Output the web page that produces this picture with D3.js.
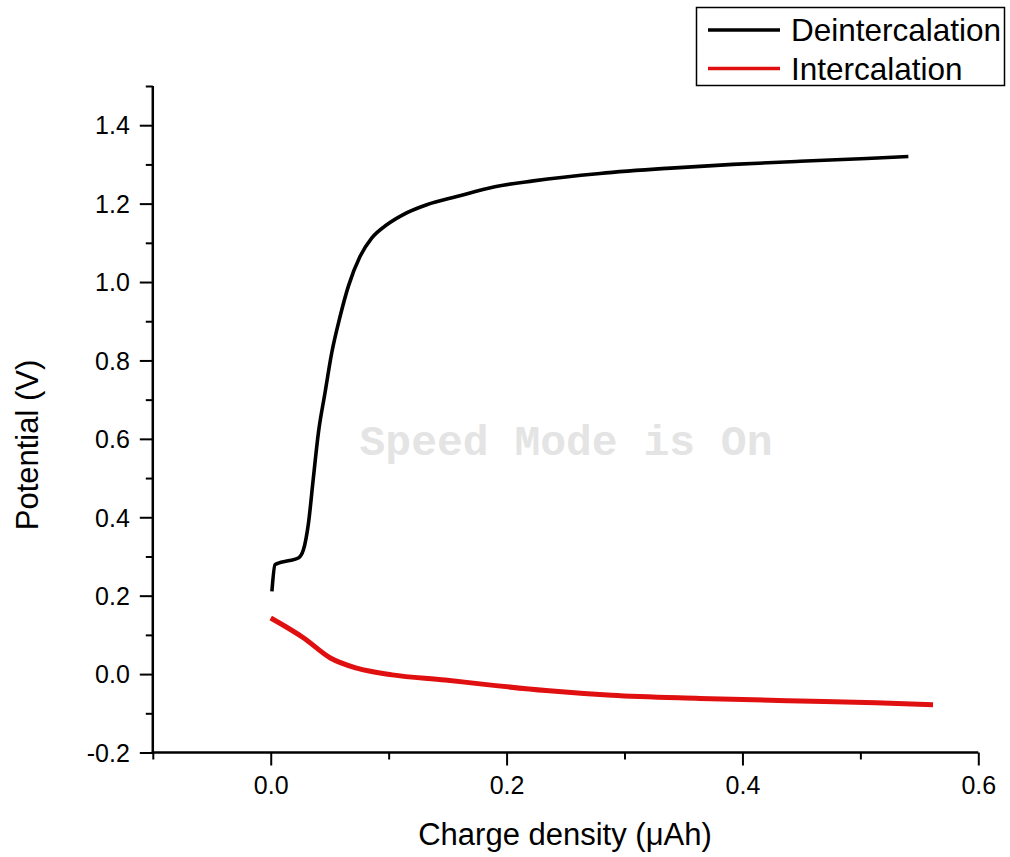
<!DOCTYPE html>
<html><head><meta charset="utf-8">
<script src="https://cdn.jsdelivr.net/npm/d3@7"></script>
<style>body{margin:0;background:#fff;}svg{display:block;}</style>
</head><body><svg id="c" width="1010" height="857"></svg>
<script>
const seriesNames = ["Deintercalation", "Intercalation"];
const seriesColors = ["#000000", "#e01010"];
const deintX = [0.001,0.0036,0.0065,0.015,0.0234,0.0277,0.032,0.036,0.0404,0.046,0.0517,0.0588,0.0658,0.0757,0.0856,0.0984,0.1124,0.1323,0.1577,0.19,0.2227,0.2792,0.3358,0.392,0.4488,0.5054,0.5407];
const deintY = [0.211,0.279,0.283,0.289,0.296,0.317,0.385,0.496,0.615,0.717,0.819,0.912,0.989,1.065,1.112,1.146,1.172,1.197,1.218,1.243,1.258,1.277,1.290,1.300,1.308,1.315,1.320];
const interX = [0.0,0.028,0.0506,0.073,0.103,0.148,0.1775,0.2334,0.289,0.364,0.4387,0.513,0.5616];
const interY = [0.143,0.092,0.041,0.015,-0.002,-0.015,-0.025,-0.042,-0.054,-0.062,-0.068,-0.073,-0.078];
const xMajor = [0.0,0.2,0.4,0.6];
const xMinor = [-0.1,0.1,0.3,0.5];
const yMajor = [-0.2,0.0,0.2,0.4,0.6,0.8,1.0,1.2,1.4];
const yMinor = [-0.1,0.1,0.3,0.5,0.7,0.9,1.1,1.3,1.5];

const svg = d3.select("#c");
const x = d3.scaleLinear().domain([-0.1,0.6]).range([152.8,978.3]);
const y = d3.scaleLinear().domain([-0.2,1.5]).range([752.5,86]);
const font = "Arial, 'Liberation Sans', sans-serif";
const fmt = d => d3.format(".1f")(d).replace("\u2212","-");

// watermark
svg.append("text").attr("x",566).attr("y",455).attr("text-anchor","middle")
  .attr("font-family","'Liberation Mono', 'Courier New', monospace").attr("font-weight","bold")
  .attr("font-size",43).attr("fill","#e4e4e4").text("Speed Mode is On");

// axes
const yAxMajor = d3.axisLeft(y).tickValues(yMajor).tickSize(13).tickFormat(fmt);
const yAxMinor = d3.axisLeft(y).tickValues(yMinor).tickSize(7).tickFormat("");
const xAxMajor = d3.axisBottom(x).tickValues(xMajor).tickSize(13).tickFormat(fmt);
const xAxMinor = d3.axisBottom(x).tickValues(xMinor).tickSize(7).tickFormat("");

function style(g){
  g.select(".domain").remove();
  g.selectAll("line").attr("stroke","#000").attr("stroke-width",2);
  g.selectAll("text").attr("font-family",font).attr("font-size",25).attr("fill","#000");
}
svg.append("g").attr("transform",`translate(${x.range()[0]},0)`).call(yAxMinor).call(style);
svg.append("g").attr("transform",`translate(${x.range()[0]},0)`).call(yAxMajor).call(style)
  .selectAll("text").attr("x",-23).attr("dy","0.35em");
svg.append("g").attr("transform",`translate(0,${y.range()[0]})`).call(xAxMinor).call(style);
svg.append("g").attr("transform",`translate(0,${y.range()[0]})`).call(xAxMajor).call(style)
  .selectAll("text").attr("y",41.5).attr("dy",0);
// axis lines
svg.append("line").attr("x1",x.range()[0]).attr("x2",x.range()[0]).attr("y1",y.range()[1]).attr("y2",y.range()[0]+1)
  .attr("stroke","#000").attr("stroke-width",2.5);
svg.append("line").attr("x1",x.range()[0]-1).attr("x2",x.range()[1]).attr("y1",y.range()[0]).attr("y2",y.range()[0])
  .attr("stroke","#000").attr("stroke-width",2.5);

// titles
svg.append("text").attr("x",565).attr("y",845).attr("text-anchor","middle")
  .attr("font-family",font).attr("font-size",31).attr("fill","#000").text("Charge density (\u03BCAh)");
svg.append("text").attr("transform","translate(38,445) rotate(-90)").attr("text-anchor","middle")
  .attr("font-family",font).attr("font-size",31).attr("fill","#000").text("Potential (V)");

// lines
const line = d3.line().x(d=>x(d[0])).y(d=>y(d[1])).curve(d3.curveMonotoneX);
const deint = deintX.map((v,i)=>[v,deintY[i]]);
const inter = interX.map((v,i)=>[v,interY[i]]);
svg.append("path").datum(inter).attr("d",line).attr("fill","none").attr("stroke",seriesColors[1]).attr("stroke-width",5).attr("stroke-linejoin","round");
svg.append("path").datum(deint).attr("d",line).attr("fill","none").attr("stroke",seriesColors[0]).attr("stroke-width",3.6).attr("stroke-linejoin","round");

// legend
const lg = svg.append("g");
lg.append("rect").attr("x",696.5).attr("y",7.5).attr("width",308).attr("height",78).attr("fill","#fff").attr("stroke","#000").attr("stroke-width",1.5);
seriesNames.forEach((n,i)=>{
  const yy = 30 + i*38.5;
  lg.append("line").attr("x1",708).attr("x2",780).attr("y1",yy).attr("y2",yy).attr("stroke",seriesColors[i]).attr("stroke-width",3.5);
  lg.append("text").attr("x",791).attr("y",yy+11).attr("font-family",font).attr("font-size",31.5).attr("fill","#000").text(n);
});
</script></body></html>
